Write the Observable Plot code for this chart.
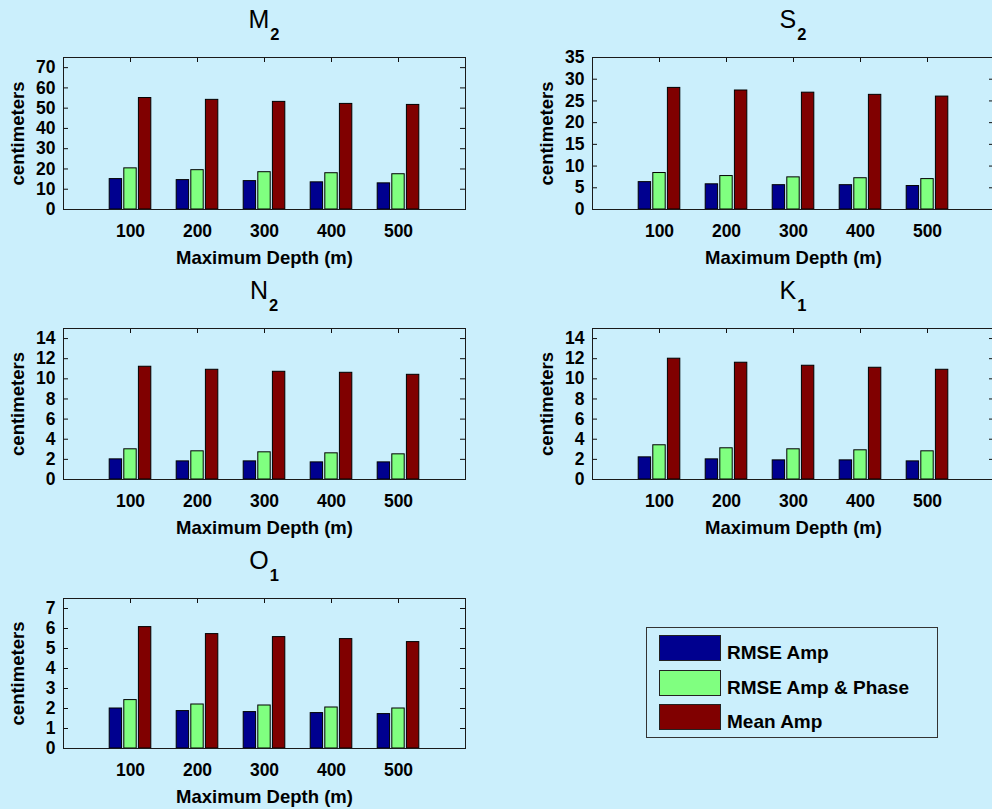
<!DOCTYPE html>
<html><head><meta charset="utf-8">
<script src="https://cdn.jsdelivr.net/npm/d3@7"></script>
<script src="https://cdn.jsdelivr.net/npm/@observablehq/plot@0.6"></script>
<style>
html,body{margin:0;padding:0;background:#CBEFFC;overflow:hidden;}
#root{position:relative;width:992px;height:809px;overflow:hidden;background:#CBEFFC;font-family:"Liberation Sans",Arial,sans-serif;}
.panel{position:absolute;width:480px;}
.panel svg{max-width:none !important;}
.title{position:absolute;font-size:25px;line-height:25px;white-space:nowrap;transform:translateX(-50%);color:#000;}
.title span{font-size:16.5px;position:relative;top:12px;font-weight:bold;margin-left:1px;}
.legend{position:absolute;left:646px;top:627px;width:292px;height:111px;border:1px solid #333;box-sizing:border-box;}
.legend .sw{position:absolute;left:12px;width:62px;height:26px;border:1px solid #222;box-sizing:border-box;}
.legend .lt{position:absolute;left:80px;font-size:19px;font-weight:bold;line-height:20px;white-space:nowrap;color:#000;}
</style>
</head><body><div id="root"></div>
<script>
// ---- data ----
const depths = [100, 200, 300, 400, 500];
const seriesNames = ["RMSE Amp", "RMSE Amp & Phase", "Mean Amp"];
const seriesColors = ["#00008F", "#80FF80", "#800000"];
const titleMain = ["M", "S", "N", "K", "O"];
const titleSub = ["2", "2", "2", "1", "1"];
const xLabel = "Maximum Depth (m)";
const yLabel = "centimeters";

const m2Rmse   = [15.0, 14.5, 14.0, 13.4, 12.9];
const m2RmseAP = [20.3, 19.4, 18.4, 17.9, 17.4];
const m2Mean   = [55.0, 54.1, 53.1, 52.1, 51.6];
const s2Rmse   = [6.3, 5.8, 5.6, 5.6, 5.4];
const s2RmseAP = [8.4, 7.7, 7.4, 7.2, 7.0];
const s2Mean   = [28.0, 27.4, 26.9, 26.4, 26.0];
const n2Rmse   = [2.0, 1.8, 1.8, 1.7, 1.7];
const n2RmseAP = [3.0, 2.8, 2.7, 2.6, 2.5];
const n2Mean   = [11.2, 10.9, 10.7, 10.6, 10.4];
const k1Rmse   = [2.2, 2.0, 1.9, 1.9, 1.8];
const k1RmseAP = [3.4, 3.1, 3.0, 2.9, 2.8];
const k1Mean   = [12.0, 11.6, 11.3, 11.1, 10.9];
const o1Rmse   = [2.0, 1.87, 1.82, 1.77, 1.72];
const o1RmseAP = [2.42, 2.2, 2.15, 2.05, 2.0];
const o1Mean   = [6.07, 5.72, 5.57, 5.47, 5.32];

const m2Ticks = [0, 10, 20, 30, 40, 50, 60, 70];
const s2Ticks = [0, 5, 10, 15, 20, 25, 30, 35];
const n2Ticks = [0, 2, 4, 6, 8, 10, 12, 14];
const k1Ticks = [0, 2, 4, 6, 8, 10, 12, 14];
const o1Ticks = [0, 1, 2, 3, 4, 5, 6, 7];
const yMaxes = [75, 35, 15, 15, 7.5];

// ---- layout ----
const panels = [
  {series: [m2Rmse, m2RmseAP, m2Mean], ticks: m2Ticks, left: 0,   boxTop: 57,  innerH: 152},
  {series: [s2Rmse, s2RmseAP, s2Mean], ticks: s2Ticks, left: 529, boxTop: 57,  innerH: 152},
  {series: [n2Rmse, n2RmseAP, n2Mean], ticks: n2Ticks, left: 0,   boxTop: 328, innerH: 151},
  {series: [k1Rmse, k1RmseAP, k1Mean], ticks: k1Ticks, left: 529, boxTop: 328, innerH: 151},
  {series: [o1Rmse, o1RmseAP, o1Mean], ticks: o1Ticks, left: 0,   boxTop: 598, innerH: 150}
];

const root = document.getElementById("root");
const W = 480, ML = 63, MR = 15, MT = 10, MB = 62;
const innerW = W - ML - MR;
const pitch = 21.8, bw = 18.5, tick = 5;
const font = '"Liberation Sans", Arial, sans-serif';

panels.forEach((p, k) => {
  const rows = [];
  p.series.forEach((vals, i) => vals.forEach((v, j) => rows.push({depth: depths[j], si: i, series: seriesNames[i], value: v})));
  const H = MT + p.innerH + MB;
  const chart = Plot.plot({
    width: W, height: H,
    marginLeft: ML, marginRight: MR, marginTop: MT, marginBottom: MB,
    style: {background: "transparent", fontFamily: font, fontSize: "17.5px", fontWeight: "bold", color: "#000", overflow: "visible", maxWidth: "none"},
    x: {domain: [0, 600]},
    y: {domain: [0, yMaxes[k]]},
    color: {domain: seriesNames, range: seriesColors},
    marks: [
      Plot.tickX(depths, {x: d => d, insetTop: p.innerH - tick, stroke: "#111"}),
      Plot.rectY(rows, {
        x1: d => d.depth + (d.si - 1) * pitch - bw / 2,
        x2: d => d.depth + (d.si - 1) * pitch + bw / 2,
        y: "value", fill: "series", stroke: "#000", strokeWidth: 1
      }),
      Plot.tickX(depths, {x: d => d, insetBottom: p.innerH - tick, stroke: "#111"}),
      Plot.tickY(p.ticks, {y: d => d, insetRight: innerW - tick, stroke: "#111"}),
      Plot.tickY(p.ticks, {y: d => d, insetLeft: innerW - tick, stroke: "#111"}),
      Plot.frame({stroke: "#1a1a1a", strokeWidth: 1}),
      Plot.axisY(p.ticks, {tickSize: 0, tickPadding: 8, fontSize: 17.5, label: null}),
      Plot.axisX(depths, {tickSize: 0, tickPadding: 15, fontSize: 17.5, label: null}),
      Plot.text([xLabel], {frameAnchor: "bottom", text: d => d, dy: 49, lineAnchor: "middle", textAnchor: "middle", fontSize: 18.5, fontWeight: "bold"}),
      Plot.text([yLabel], {frameAnchor: "left", text: d => d, dx: -45, rotate: -90, lineAnchor: "middle", textAnchor: "middle", fontSize: 18.5, fontWeight: "bold"})
    ]
  });
  const div = document.createElement("div");
  div.className = "panel";
  div.style.left = p.left + "px";
  div.style.top = (p.boxTop - MT) + "px";
  div.appendChild(chart);
  root.appendChild(div);

  const t = document.createElement("div");
  t.className = "title";
  t.style.left = (p.left + ML + innerW / 2) + "px";
  t.style.top = (p.boxTop - 50) + "px";
  t.innerHTML = titleMain[k] + "<span>" + titleSub[k] + "</span>";
  root.appendChild(t);
});

// legend
const lg = document.createElement("div");
lg.className = "legend";
const swTops = [7, 42, 76];
seriesNames.forEach((name, i) => {
  const sw = document.createElement("div");
  sw.className = "sw";
  sw.style.top = swTops[i] + "px";
  sw.style.background = seriesColors[i];
  lg.appendChild(sw);
  const lt = document.createElement("div");
  lt.className = "lt";
  lt.style.top = (swTops[i] + 8) + "px";
  lt.textContent = name;
  lg.appendChild(lt);
});
root.appendChild(lg);
</script>
</body></html>
